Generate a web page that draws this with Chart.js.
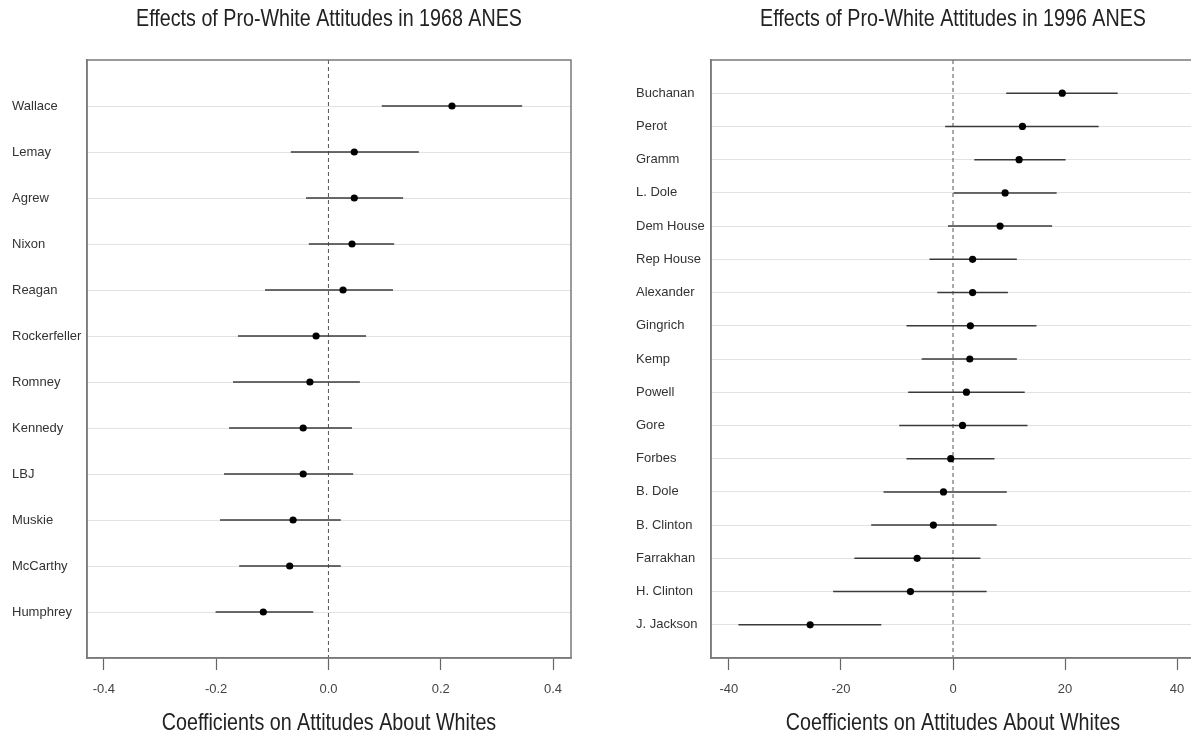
<!DOCTYPE html>
<html>
<head>
<meta charset="utf-8">
<script src="https://cdn.jsdelivr.net/npm/chart.js@4.4.1/dist/chart.umd.min.js"></script>
<style>
    html, body { margin: 0; padding: 0; background: #fff; overflow: hidden; }
    body { width: 1191px; height: 742px; position: relative; }
    canvas { position: absolute; top: 0; }
    #chart1968 { left: 0; }
    #chart1996 { left: 624px; }
</style>
</head>
<body>
<canvas id="chart1968" width="600" height="742"></canvas>
<canvas id="chart1996" width="660" height="742"></canvas>
<script>
// 1968 ANES
const names1968 = ['Wallace', 'Lemay', 'Agrew', 'Nixon', 'Reagan', 'Rockerfeller', 'Romney',
    'Kennedy', 'LBJ', 'Muskie', 'McCarthy', 'Humphrey'];
const est1968 = [0.220, 0.046, 0.046, 0.042, 0.026, -0.022, -0.033, -0.045, -0.045, -0.063, -0.069, -0.116];
const lo1968 = [0.095, -0.067, -0.040, -0.035, -0.113, -0.161, -0.170, -0.177, -0.186, -0.193, -0.159, -0.201];
const hi1968 = [0.345, 0.161, 0.133, 0.117, 0.115, 0.067, 0.056, 0.042, 0.044, 0.022, 0.022, -0.027];
const ticks1968 = [-0.4, -0.2, 0.0, 0.2, 0.4];

// 1996 ANES
const names1996 = ['Buchanan', 'Perot', 'Gramm', 'L. Dole', 'Dem House', 'Rep House', 'Alexander',
    'Gingrich', 'Kemp', 'Powell', 'Gore', 'Forbes', 'B. Dole', 'B. Clinton', 'Farrakhan',
    'H. Clinton', 'J. Jackson'];
const est1996 = [19.5, 12.4, 11.8, 9.3, 8.4, 3.5, 3.5, 3.1, 3.0, 2.4, 1.7, -0.4, -1.7, -3.5, -6.4, -7.6, -25.5];
const lo1996 = [9.5, -1.4, 3.8, 0.1, -0.9, -4.2, -2.8, -8.3, -5.6, -8.0, -9.6, -8.3, -12.4, -14.6, -17.6, -21.4, -38.3];
const hi1996 = [29.4, 26.0, 20.1, 18.5, 17.7, 11.4, 9.8, 14.9, 11.4, 12.8, 13.3, 7.4, 9.6, 7.8, 4.9, 6.0, -12.8];
const ticks1996 = [-40, -20, 0, 20, 40];

const FONT = '"Liberation Sans", Arial, sans-serif';
const X_TITLE = 'Coefficients on Attitudes About Whites';

// draws condensed text (the original uses a narrow face)
function narrowText(ctx, text, x, y, size) {
    ctx.save();
    ctx.font = size + 'px ' + FONT;
    ctx.fillStyle = '#222';
    ctx.textAlign = 'center';
    ctx.textBaseline = 'middle';
    ctx.translate(x, y);
    ctx.scale(0.82, 1);
    ctx.fillText(text, 0, 0);
    ctx.restore();
}

// box round the plot area, the title on top and the axis title below
const framePlugin = {
    id: 'frame',
    afterDraw(chart, args, opts) {
        const a = chart.chartArea;
        const ctx = chart.ctx;
        ctx.save();
        ctx.strokeStyle = '#7a7a7a';
        ctx.lineWidth = 1.5;
        ctx.strokeRect(a.left, a.top, a.right - a.left, a.bottom - a.top);
        ctx.restore();
        const cx = (a.left + a.right) / 2;
        narrowText(ctx, opts.text, cx, 19, 24);
        narrowText(ctx, X_TITLE, cx, 723, 24);
    }
};

function makeChart(id, title, names, est, lo, hi, tickVals, xmin, xmax, fmt, padRight) {
    const n = names.length;
    const datasets = [];

    // estimates
    datasets.push({
        type: 'scatter',
        data: est.map((v, i) => ({ x: v, y: i + 1 })),
        pointRadius: 3.6,
        pointBackgroundColor: '#000',
        pointBorderWidth: 0,
        order: 0
    });

    // intervals
    names.forEach((name, i) => {
        datasets.push({
            type: 'line',
            data: [{ x: lo[i], y: i + 1 }, { x: hi[i], y: i + 1 }],
            borderColor: '#3a3a3a',
            borderWidth: 1.5,
            pointRadius: 0,
            order: 1
        });
    });

    // dashed line at zero
    datasets.push({
        type: 'line',
        data: [{ x: 0, y: 0 }, { x: 0, y: n + 1 }],
        borderColor: '#555',
        borderWidth: 1,
        borderDash: [4, 3],
        pointRadius: 0,
        order: 2
    });

    return new Chart(document.getElementById(id), {
        type: 'scatter',
        data: { datasets: datasets },
        plugins: [framePlugin],
        options: {
            responsive: false,
            animation: false,
            devicePixelRatio: 1,
            layout: { padding: { left: 12, right: padRight, top: 60, bottom: 0 } },
            plugins: {
                legend: { display: false },
                tooltip: { enabled: false },
                frame: { text: title }
            },
            scales: {
                x: {
                    type: 'linear',
                    min: xmin,
                    max: xmax,
                    afterBuildTicks: (scale) => {
                        scale.ticks = tickVals.map(v => ({ value: v }));
                    },
                    afterFit: (scale) => { scale.height = 84; },
                    grid: {
                        drawOnChartArea: false,
                        drawTicks: true,
                        tickLength: 12,
                        tickColor: '#666',
                        tickWidth: 1.2
                    },
                    border: { display: true, color: '#7a7a7a', width: 1.5 },
                    ticks: {
                        padding: 12,
                        color: '#444',
                        font: { family: FONT, size: 13 },
                        maxRotation: 0,
                        callback: fmt
                    }
                },
                y: {
                    type: 'linear',
                    reverse: true,
                    min: 0,
                    max: n + 1,
                    afterBuildTicks: (scale) => {
                        scale.ticks = names.map((_, i) => ({ value: i + 1 }));
                    },
                    afterFit: (scale) => { scale.width = 75; },
                    grid: {
                        color: '#e2e2e2',
                        lineWidth: 1,
                        drawTicks: false
                    },
                    border: { display: true, color: '#7a7a7a', width: 1.5 },
                    ticks: {
                        crossAlign: 'far',
                        padding: 0,
                        color: '#333',
                        font: { family: FONT, size: 13 },
                        callback: (v) => names[v - 1]
                    }
                }
            }
        }
    });
}

makeChart('chart1968', 'Effects of Pro-White Attitudes in 1968 ANES',
    names1968, est1968, lo1968, hi1968, ticks1968, -0.43, 0.432, (v) => v.toFixed(1), 29);
makeChart('chart1996', 'Effects of Pro-White Attitudes in 1996 ANES',
    names1996, est1996, lo1996, hi1996, ticks1996, -43.2, 43.2, (v) => String(v), 89);
</script>
</body>
</html>
